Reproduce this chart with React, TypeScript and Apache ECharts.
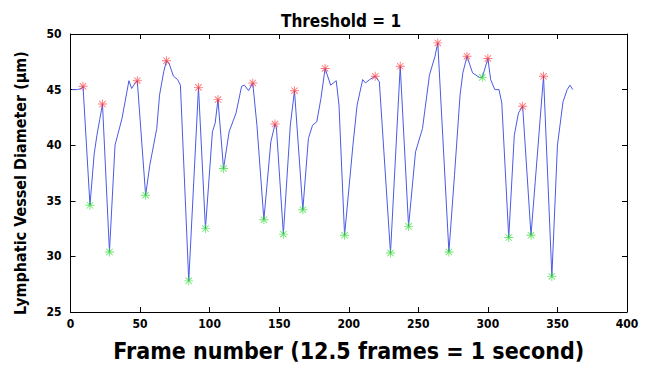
import React, { useEffect, useRef } from "react";
import * as echarts from "echarts";

// Tracked vessel diameter (frame, µm)
const frames = [1, 5, 8, 9, 14, 17, 19, 21, 23, 28, 32, 37, 42, 44, 46, 48, 54, 57, 62, 64, 67, 69, 71, 74, 77, 79, 85, 92, 97, 102, 104, 106, 110, 114, 119, 123, 125, 128, 131, 134, 139, 144, 147, 148, 153, 158, 161, 167, 171, 174, 177, 180, 183, 187, 191, 193, 197, 203, 206, 210, 212, 215, 219, 222, 230, 237, 243, 248, 253, 258, 262, 264, 272, 276, 280, 282, 285, 289, 294, 296, 300, 302, 305, 308, 310, 315, 319, 322, 325, 331, 340, 346, 350, 354, 357, 359, 361];
const diameters = [45.0, 45.0, 45.1, 45.3, 34.6, 39.2, 40.9, 42.3, 43.7, 30.4, 40.0, 42.4, 45.8, 45.1, 45.5, 45.8, 35.5, 38.2, 41.5, 44.5, 46.6, 47.6, 47.3, 46.2, 45.9, 45.4, 27.8, 45.2, 32.5, 41.2, 42.0, 44.1, 37.9, 41.2, 42.9, 45.3, 45.4, 44.9, 45.6, 41.8, 33.3, 40.3, 41.9, 41.6, 32.0, 41.8, 44.9, 34.2, 40.6, 41.8, 42.1, 44.2, 46.9, 45.4, 45.8, 43.6, 31.9, 40.0, 43.6, 45.9, 45.6, 45.9, 46.2, 45.7, 30.3, 47.1, 32.7, 39.4, 41.5, 46.3, 48.0, 49.2, 30.4, 37.3, 44.5, 46.5, 48.0, 46.5, 46.1, 46.1, 47.8, 45.9, 45.0, 45.0, 43.8, 31.7, 40.9, 42.9, 43.5, 31.9, 46.2, 28.2, 40.0, 43.9, 45.0, 45.4, 45.0];

const peakFrames = [9, 23, 48, 69, 92, 106, 131, 147, 161, 183, 219, 237, 264, 285, 300, 325, 340];
const peakValues = [45.3, 43.7, 45.8, 47.6, 45.2, 44.1, 45.6, 41.9, 44.9, 46.9, 46.2, 47.1, 49.2, 48.0, 47.8, 43.5, 46.2];
const valleyFrames = [14, 28, 54, 85, 97, 110, 139, 153, 167, 197, 230, 243, 272, 296, 315, 331, 346];
const valleyValues = [34.6, 30.4, 35.5, 27.8, 32.5, 37.9, 33.3, 32.0, 34.2, 31.9, 30.3, 32.7, 30.4, 46.1, 31.7, 31.9, 28.2];

const xTicks = { min: 0, max: 400, interval: 50 };
const yTicks = { min: 25, max: 50, interval: 5 };

const titleText = "Threshold = 1";
const xName = "Frame number (12.5 frames = 1 second)";
const yName = "Lymphatic Vessel Diameter (\u03bcm)";

const STAR =
  "path://M9 0L11 0L11 20L9 20ZM0 9L20 9L20 11L0 11ZM2.2 3.6L3.6 2.2L17.8 16.4L16.4 17.8ZM16.4 2.2L17.8 3.6L3.6 17.8L2.2 16.4Z";

const FONT = "'Liberation Sans Narrow', 'DejaVu Sans Condensed', 'Liberation Sans', sans-serif";

export default function App() {
  const ref = useRef<HTMLDivElement>(null);
  useEffect(() => {
    if (!ref.current) return;
    const chart = echarts.init(ref.current, undefined, { renderer: "svg" });
    const line = frames.map((f, i) => [f, diameters[i]]);
    const peaks = peakFrames.map((f, i) => [f, peakValues[i]]);
    const valleys = valleyFrames.map((f, i) => [f, valleyValues[i]]);
    const axisLine = { show: true, onZero: false, lineStyle: { color: "#000", width: 1 } };
    const tickIn = { show: true, inside: true, length: 5, lineStyle: { color: "#000" } };
    const label = { color: "#000", fontWeight: "bold" as const, fontSize: 12, fontFamily: FONT };
    chart.setOption({
      animation: false,
      backgroundColor: "#fff",
      title: {
        text: titleText,
        left: 336,
        top: 7,
        textAlign: "center",
        textStyle: { fontSize: 17, fontWeight: "bold", color: "#000", fontFamily: FONT },
      },
      grid: { left: 70.5, right: 25, top: 34, bottom: 61, containLabel: false },
      xAxis: [
        {
          type: "value",
          ...xTicks,
          position: "bottom",
          axisLine,
          axisTick: tickIn,
          splitLine: { show: false },
          axisLabel: { ...label, margin: 6 },
          name: xName,
          nameLocation: "middle",
          nameGap: 27,
          nameTextStyle: { fontSize: 23, fontWeight: "bold", color: "#000", fontFamily: FONT },
        },
        {
          type: "value",
          ...xTicks,
          position: "top",
          axisLine,
          axisTick: tickIn,
          splitLine: { show: false },
          axisLabel: { show: false },
        },
      ],
      yAxis: [
        {
          type: "value",
          ...yTicks,
          position: "left",
          axisLine,
          axisTick: tickIn,
          splitLine: { show: false },
          axisLabel: { ...label, margin: 9 },
          name: yName,
          nameLocation: "middle",
          nameGap: 42,
          nameTextStyle: {
            fontSize: 16,
            fontWeight: "bold",
            color: "#000",
            fontFamily: FONT,
            padding: [0, 20, 0, 0],
          },
        },
        {
          type: "value",
          ...yTicks,
          position: "right",
          axisLine,
          axisTick: tickIn,
          splitLine: { show: false },
          axisLabel: { show: false },
        },
      ],
      series: [
        {
          type: "line",
          data: line,
          showSymbol: false,
          symbol: "none",
          lineStyle: { color: "#4b5ae6", width: 1 },
          z: 2,
        },
        {
          type: "scatter",
          data: peaks,
          symbol: STAR,
          symbolSize: 9,
          itemStyle: { color: "rgba(255,40,40,0.8)" },
          z: 3,
        },
        {
          type: "scatter",
          data: valleys,
          symbol: STAR,
          symbolSize: 9,
          itemStyle: { color: "rgba(40,220,40,0.85)" },
          z: 3,
        },
      ],
    });
    return () => chart.dispose();
  }, []);
  return (
    <div
      ref={ref}
      style={{ position: "fixed", left: 0, top: 0, width: 652, height: 373 }}
    />
  );
}
